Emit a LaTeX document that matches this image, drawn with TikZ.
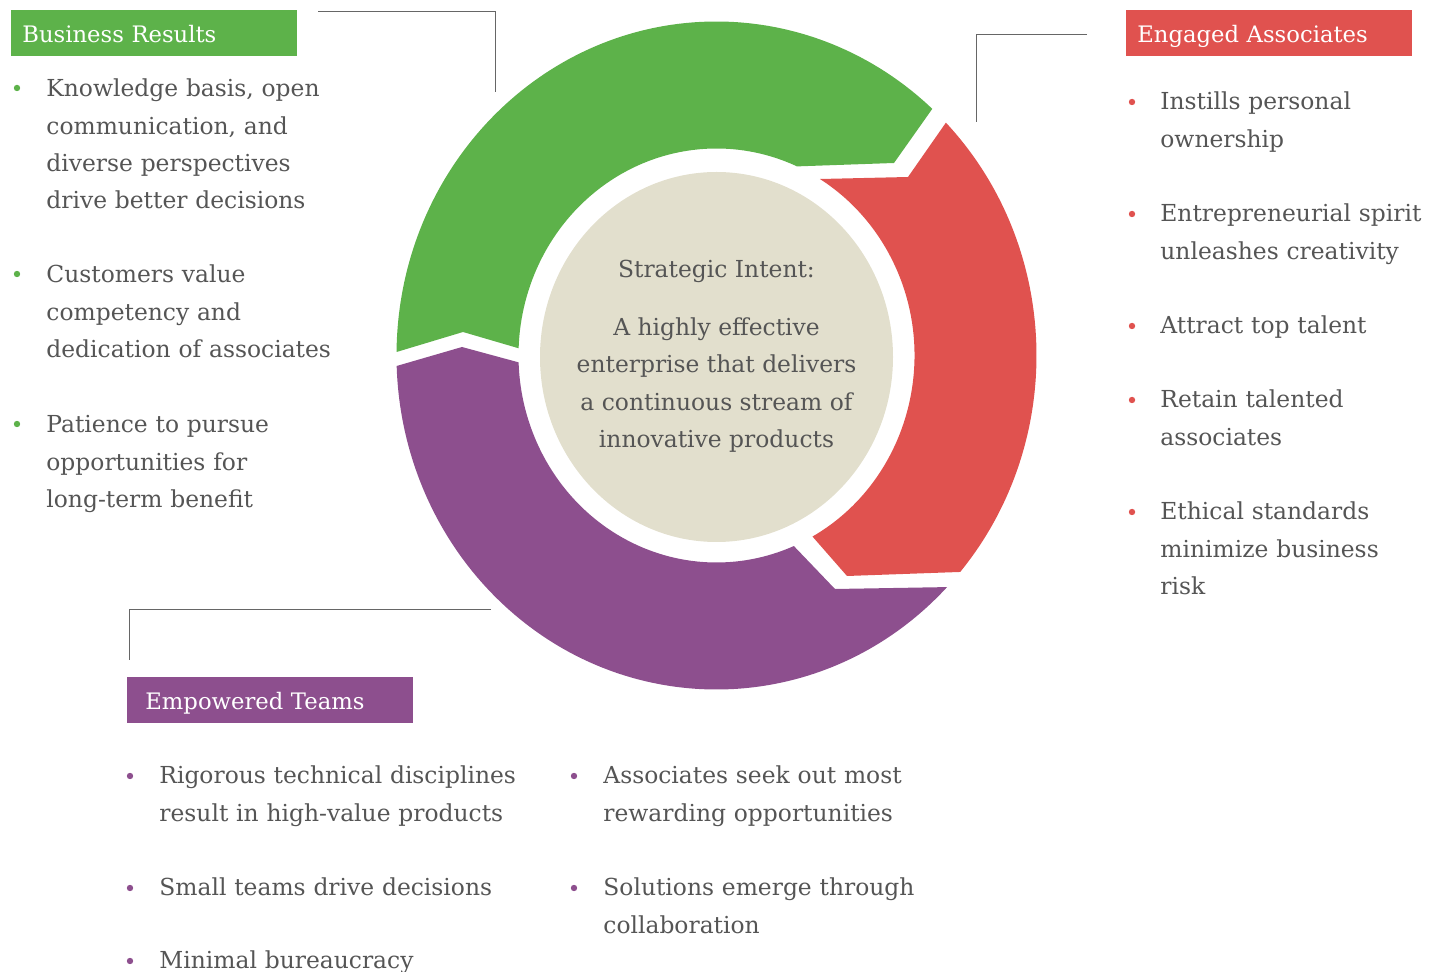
\documentclass[tikz,border=0pt]{standalone}
\usepackage{fontspec}
\setmainfont{DejaVu Serif}
\definecolor{gr}{RGB}{93,178,74}
\definecolor{rd}{RGB}{224,82,79}
\definecolor{pu}{RGB}{141,79,142}
\definecolor{beige}{RGB}{226,223,205}
\definecolor{txt}{RGB}{85,85,85}

\begin{document}
\begin{tikzpicture}[x=0.5pt,y=0.5pt]

\tikzset{
  ItemStyle/.style = { anchor=base west, align=left, inner sep=0pt,
                       text width=200pt, text=txt,
                       font=\fontsize{11.7}{18.65}\selectfont },
  DotStyle/.style = { circle, fill=#1, inner sep=0pt, minimum size=3.2pt },
  HeadStyle/.style = { anchor=north west, fill=#1, text=white,
                       minimum width=143pt, minimum height=23pt,
                       inner xsep=5.5pt, text width=132pt, align=left,
                       text height=10pt, text depth=1.3pt,
                       font=\fontsize{11.35}{13}\selectfont },
  LeaderStyle/.style = { draw=black!60, line width=0.5pt } }

  \useasboundingbox (0,0) rectangle (1431,-972);

  % ring
  \begin{scope}[shift={(716.5,-355.5)}]
    \fill[gr] (179.4:160pt and 167pt)
      arc[start angle=179.4, end angle=47.6, x radius=160pt, y radius=167pt]
      -- (177.5,192.5) -- (66:99pt and 103.5pt)
      arc[start angle=66, end angle=178, x radius=99pt, y radius=103.5pt]
      -- (-253.5,23.5) -- cycle;
    \fill[rd] (44.2:160pt and 167pt)
      arc[start angle=44.2, end angle=-40.4, x radius=160pt, y radius=167pt]
      -- (130.5,-220.5) -- (-61:99pt and 103.5pt)
      arc[start angle=-61, end angle=58.5, x radius=99pt, y radius=103.5pt]
      -- (191.5,178.5) -- cycle;
    \fill[pu] (-43.9:160pt and 167pt)
      arc[start angle=-43.9, end angle=-178.2, x radius=160pt, y radius=167pt]
      -- (-254.5,8.5) -- (-178.1:99pt and 103.5pt)
      arc[start angle=-178.1, end angle=-67, x radius=99pt, y radius=103.5pt]
      -- (118.5,-233.5) -- cycle;
    \fill[beige] (0,-1.5) ellipse [x radius=88.25pt, y radius=92.5pt];
  \end{scope}

  \node[align=center, text=txt, font=\fontsize{11.7}{18.65}\selectfont] (intent) at (716.5,-356)
    {Strategic Intent:\\[10.5pt] A highly effective\\ enterprise that delivers\\
     a continuous stream of\\ innovative products};

  % headings
  \node[HeadStyle=gr] (br) at (11,-10) {Business Results};
  \node[HeadStyle=rd] (ea) at (1126,-10) {Engaged Associates};
  \node[HeadStyle=pu, inner xsep=9pt, text width=125pt] (et) at (127,-677) {Empowered Teams};

  \coordinate (brA) at (318,-12);
  \coordinate (brB) at (495,-92);
  \coordinate (eaA) at (1087,-35);
  \coordinate (eaB) at (976,-122);
  \coordinate (etA) at (491,-610);
  \coordinate (etB) at (129,-660);
  \draw[LeaderStyle] (brA) -| (brB);
  \draw[LeaderStyle] (eaA) -| (eaB);
  \draw[LeaderStyle] (etA) -| (etB);

  % business results
  \node[DotStyle=gr] (g1dot) at (17,-88) {};
  \node[ItemStyle] (g1) at (46,-97) {Knowledge basis, open\\communication, and\\diverse perspectives\\drive better decisions};
  \node[DotStyle=gr] (g2dot) at (17,-274) {};
  \node[ItemStyle] (g2) at (46,-283) {Customers value\\competency and\\dedication of associates};
  \node[DotStyle=gr] (g3dot) at (17,-424) {};
  \node[ItemStyle] (g3) at (46,-433) {Patience to pursue\\opportunities for\\long-term benefit};

  % engaged associates
  \node[DotStyle=rd] (r1dot) at (1132,-102) {};
  \node[ItemStyle] (r1) at (1160,-110) {Instills personal\\ownership};
  \node[DotStyle=rd] (r2dot) at (1132,-214) {};
  \node[ItemStyle] (r2) at (1160,-222) {Entrepreneurial spirit\\unleashes creativity};
  \node[DotStyle=rd] (r3dot) at (1132,-326) {};
  \node[ItemStyle] (r3) at (1160,-334) {Attract top talent};
  \node[DotStyle=rd] (r4dot) at (1132,-400) {};
  \node[ItemStyle] (r4) at (1160,-408) {Retain talented\\associates};
  \node[DotStyle=rd] (r5dot) at (1132,-512) {};
  \node[ItemStyle] (r5) at (1160,-520) {Ethical standards\\minimize business\\risk};

  % empowered teams
  \node[DotStyle=pu] (p1dot) at (130,-776) {};
  \node[ItemStyle] (p1) at (159,-784) {Rigorous technical disciplines\\result in high-value products};
  \node[DotStyle=pu] (p2dot) at (130,-888) {};
  \node[ItemStyle] (p2) at (159,-896) {Small teams drive decisions};
  \node[DotStyle=pu] (p3dot) at (130,-961) {};
  \node[ItemStyle] (p3) at (159,-969) {Minimal bureaucracy};
  \node[DotStyle=pu] (p4dot) at (574,-776) {};
  \node[ItemStyle] (p4) at (603,-784) {Associates seek out most\\rewarding opportunities};
  \node[DotStyle=pu] (p5dot) at (574,-888) {};
  \node[ItemStyle] (p5) at (603,-896) {Solutions emerge through\\collaboration};

\end{tikzpicture}
\end{document}
